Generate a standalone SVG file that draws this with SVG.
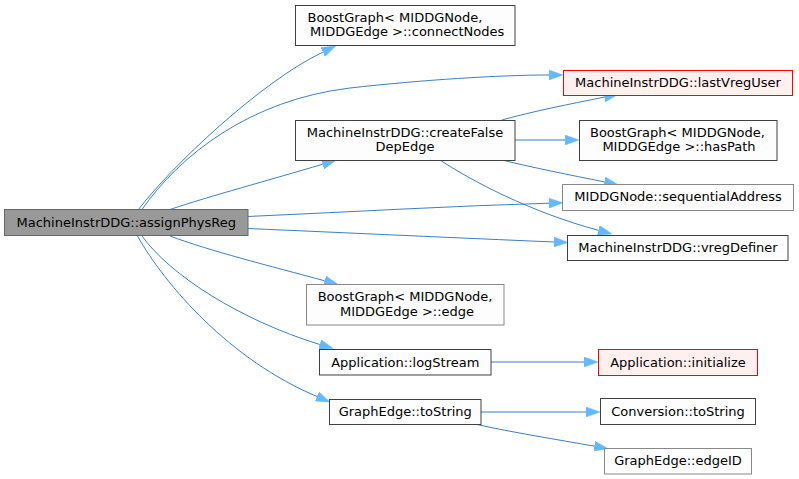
<svg xmlns="http://www.w3.org/2000/svg" width="799" height="479" viewBox="0 0 799 479">
<style>
.n rect{fill:#fcfdfc;stroke:#404040;stroke-width:1}
.n.l rect{stroke:#888888}
.n.r rect{fill:#fff0f0;stroke:#ff0000}
.n.m rect{fill:#999999;stroke:#666666}
text{font-family:"DejaVu Sans",sans-serif;font-size:13px;fill:#000}
.c{text-anchor:middle}
#edges path{fill:none;stroke:#3a80c4;stroke-width:1;marker-end:url(#ah)}
</style>
<defs>
<marker id="ah" markerUnits="userSpaceOnUse" viewBox="0 0 14 10" markerWidth="14" markerHeight="10" refX="0" refY="5" orient="auto">
<polygon points="0,0 14,5 0,10" fill="#63b8ff" stroke="#63b8ff" stroke-width="0.5"/>
</marker>
</defs>
<g id="edges">
<path d="M138.5,209.5 C170,168 260,82 322.9,52.1"/>
<path d="M142,209.5 C180,155 250,100 350,88 C420,80 500,75 549,75"/>
<path d="M170,209.5 C210,196 270,180 322.7,164.2"/>
<path d="M248,216.5 C350,212 450,206 549,203.2"/>
<path d="M248,228.5 C350,233 460,238 554,242"/>
<path d="M170,236 C210,251 270,266 324.7,280.8"/>
<path d="M142,236 C170,275 240,320 319.8,344.5"/>
<path d="M137.5,236 C165,285 230,360 317,396.5"/>
<path d="M502,120 C530,112 570,104 604.3,97.1"/>
<path d="M515,140 L565,140"/>
<path d="M502,160 C530,167 570,175 604.3,181.9"/>
<path d="M440,160 C470,180 530,212 598.4,230.3"/>
<path d="M491,362 L584,362"/>
<path d="M481,412 L586,412"/>
<path d="M477,424.5 C510,432 560,440 594.3,446.2"/>
</g>
<g id="node-assignPhysReg" class="n m"><rect x="4.5" y="209.5" width="243.5" height="26"/><text class="c" x="126.25" y="227">MachineInstrDDG::assignPhysReg</text></g>
<g id="node-connectNodes" class="n"><rect x="295.5" y="5.5" width="219.5" height="40"/><text x="307.5" y="21.5">BoostGraph&lt; MIDDGNode,</text><text class="c" x="407.2" y="36">MIDDGEdge &gt;::connectNodes</text></g>
<g id="node-lastVregUser" class="n r"><rect x="563.5" y="70.5" width="229" height="25"/><text class="c" x="678" y="87">MachineInstrDDG::lastVregUser</text></g>
<g id="node-createFalseDepEdge" class="n"><rect x="295.5" y="120.5" width="219.5" height="40"/><text class="c" x="405" y="136.5">MachineInstrDDG::createFalse</text><text class="c" x="405" y="151">DepEdge</text></g>
<g id="node-hasPath" class="n"><rect x="579.5" y="120.5" width="197.5" height="40"/><text x="590" y="136.5">BoostGraph&lt; MIDDGNode,</text><text class="c" x="679" y="151">MIDDGEdge &gt;::hasPath</text></g>
<g id="node-sequentialAddress" class="n l"><rect x="562.5" y="184.5" width="231" height="26"/><text class="c" x="678" y="201">MIDDGNode::sequentialAddress</text></g>
<g id="node-vregDefiner" class="n"><rect x="567.5" y="235.5" width="220.5" height="25"/><text class="c" x="678" y="252">MachineInstrDDG::vregDefiner</text></g>
<g id="node-edge" class="n l"><rect x="306.5" y="284.5" width="197.5" height="40.5"/><text x="317.7" y="301">BoostGraph&lt; MIDDGNode,</text><text class="c" x="407" y="315.5">MIDDGEdge &gt;::edge</text></g>
<g id="node-logStream" class="n"><rect x="319.5" y="349.5" width="171.5" height="25.5"/><text class="c" x="405.25" y="366.5">Application::logStream</text></g>
<g id="node-GraphEdge-toString" class="n"><rect x="329.5" y="399.5" width="151.5" height="25"/><text class="c" x="405.25" y="416">GraphEdge::toString</text></g>
<g id="node-initialize" class="n r"><rect x="598.5" y="349.5" width="159" height="26"/><text class="c" x="678" y="366.5">Application::initialize</text></g>
<g id="node-Conversion-toString" class="n"><rect x="600.5" y="398.5" width="155" height="26"/><text class="c" x="678" y="415.5">Conversion::toString</text></g>
<g id="node-edgeID" class="n l"><rect x="604.5" y="448.5" width="147" height="25.5"/><text class="c" x="678" y="465">GraphEdge::edgeID</text></g>
</svg>
